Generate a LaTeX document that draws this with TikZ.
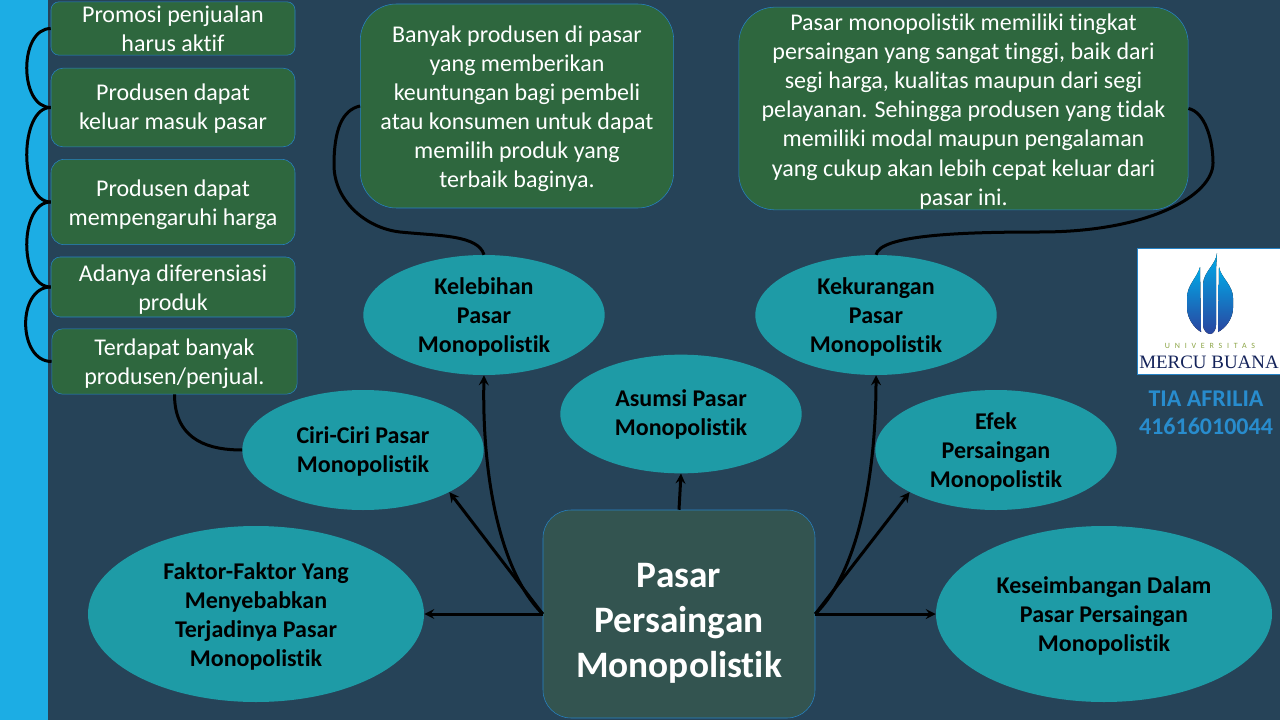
\documentclass[tikz,border=0pt]{standalone}
\usepackage{fontspec}
\setmainfont[Ligatures=NoCommon]{Carlito}
\newfontfamily\logofont{Liberation Serif}
\newfontfamily\spasifont[LetterSpace=60]{Carlito}
\usetikzlibrary{shapes.geometric}
\definecolor{latar}{RGB}{38,67,88}
\definecolor{strip}{RGB}{28,173,228}
\definecolor{hijau}{RGB}{46,103,62}
\definecolor{tosca}{RGB}{30,155,166}
\definecolor{pusat}{RGB}{51,84,80}
\definecolor{garis}{RGB}{38,131,198}
\definecolor{nama}{RGB}{40,140,205}
\definecolor{apiatas}{RGB}{0,170,232}
\definecolor{apitengah}{RGB}{20,112,190}
\definecolor{apibawah}{RGB}{42,70,160}
\definecolor{zaitun}{RGB}{140,165,70}
\definecolor{mercu}{RGB}{20,35,90}
\newcommand{\turun}[1]{\rule{0pt}{#1pt}}
\tikzset{
	kotak/.style={draw=garis, fill=hijau, text=white, align=center, inner sep=0pt, font=\fontsize{18}{21.8}\selectfont},
	elips/.style={ellipse, fill=tosca, text=black, align=center, inner sep=0pt, font=\fontsize{18}{21.8}\selectfont\bfseries},
	api/.style={top color=apiatas, middle color=apitengah, bottom color=apibawah},
	kurva/.style={line width=2.25pt, black},
	panah/.style={line width=2.25pt, black, ->, >=stealth},
}
\begin{document}
\begin{tikzpicture}[x=0.75pt, y=-0.75pt]
	\useasboundingbox (0,0) rectangle (1280,720);
	\fill[latar] (0,0) rectangle (1280,720);
	\fill[strip] (0,0) rectangle (48,720);

	\node[kotak, rounded corners=6pt, minimum width=183pt, minimum height=40pt] (promosi) at (173,28.5) {Promosi penjualan\\harus aktif};
	\node[kotak, rounded corners=9pt, minimum width=183pt, minimum height=59pt] (keluar) at (173,107.5) {\turun{14}Produsen dapat\\keluar masuk pasar};
	\node[kotak, rounded corners=10pt, minimum width=183pt, minimum height=64pt] (harga) at (173,202) {\turun{17}Produsen dapat\\mempengaruhi harga};
	\node[kotak, rounded corners=7pt, minimum width=183pt, minimum height=45pt] (diferensiasi) at (173,287) {\turun{16}Adanya diferensiasi\\produk};
	\node[kotak, rounded corners=8pt, minimum width=184pt, minimum height=49pt] (penjual) at (174.5,361.5) {\turun{16}Terdapat banyak\\produsen/penjual.};

	\node[kotak, rounded corners=27pt, minimum width=235pt, minimum height=153pt] (banyak) at (517,106) {\turun{17}Banyak produsen di pasar\\yang memberikan\\keuntungan bagi pembeli\\atau konsumen untuk dapat\\memilih produk yang\\terbaik baginya.};
	\node[kotak, rounded corners=27pt, minimum width=337pt, minimum height=152pt] (modal) at (963.5,108.5) {\turun{17}Pasar monopolistik memiliki tingkat\\persaingan yang sangat tinggi, baik dari\\segi harga, kualitas maupun dari segi\\pelayanan. Sehingga produsen yang tidak\\memiliki modal maupun pengalaman\\yang cukup akan lebih cepat keluar dari\\pasar ini.};

	\node[elips, minimum width=181pt, minimum height=90pt] (kelebihan) at (484,315) {\turun{16}Kelebihan\\Pasar\\Monopolistik};
	\node[elips, minimum width=181pt, minimum height=90pt] (kekurangan) at (876,315) {\turun{16}Kekurangan\\Pasar\\Monopolistik};
	\node[elips, minimum width=181pt, minimum height=89pt] (asumsi) at (681,414) {Asumsi Pasar\\Monopolistik};
	\node[elips, minimum width=181pt, minimum height=90pt] (ciri) at (363,450) {\turun{14.5}Ciri-Ciri Pasar\\Monopolistik};
	\node[elips, minimum width=181pt, minimum height=90pt] (efek) at (996,450) {\turun{16}Efek\\Persaingan\\Monopolistik};
	\node[elips, minimum width=252pt, minimum height=132pt] (faktor) at (256,614) {\turun{16}Faktor-Faktor Yang\\Menyebabkan\\Terjadinya Pasar\\Monopolistik};
	\node[elips, minimum width=252pt, minimum height=132pt] (seimbang) at (1104,614) {\turun{16}Keseimbangan Dalam\\Pasar Persaingan\\Monopolistik};

	\node[kotak, fill=pusat, rounded corners=21pt, minimum width=204pt, minimum height=156pt, font=\fontsize{28}{33.8}\selectfont\bfseries] (pasar) at (679,614) {\turun{31.5}Pasar\\Persaingan\\Monopolistik};

	% kurung kiri
	\draw[kurva] (promosi.west) .. controls +(-32,0) and +(-32,0) .. (keluar.west);
	\draw[kurva] (keluar.west) .. controls +(-32,0) and +(-32,0) .. (harga.west);
	\draw[kurva] (harga.west) .. controls +(-32,0) and +(-32,0) .. (diferensiasi.west);
	\draw[kurva] (diferensiasi.west) .. controls +(-34,0) and +(-34,0) .. (penjual.west);
	\draw[kurva] (penjual.south) .. controls +(0,48) and +(-30,0) .. (ciri.west);
	\draw[kurva] (banyak.west) .. controls (342,110) and (334,130) .. (334,165) .. controls (334,200) and (365,228) .. (400,232) .. controls (440,236) and (478,235) .. (kelebihan.north);
	\draw[kurva] (modal.east) .. controls (1205,112) and (1213,140) .. (1213,163) .. controls (1213,195) and (1150,232) .. (1040,232) .. controls (960,232) and (880,235) .. (kekurangan.north);

	% panah dari pusat
	\draw[panah] (pasar.west) -- (faktor.east);
	\draw[panah] (pasar.west) -- (ciri.-26.6);
	\draw[panah] (pasar.west) .. controls (498,570) and (482,470) .. (kelebihan.south);
	\draw[panah] (pasar.north) -- (asumsi.south);
	\draw[panah] (pasar.east) -- (seimbang.west);
	\draw[panah] (pasar.east) -- (efek.206);
	\draw[panah] (pasar.east) .. controls (860,570) and (876,470) .. (kekurangan.south);

	% logo
	\fill[white] (1137,248) rectangle (1280,374);
	\draw[garis, line width=0.75pt] (1280,248) -- (1137,248) -- (1137,374) -- (1280,374);
	\fill[api] (1200,267) .. controls (1197,278) and (1187,285) .. (1187,298) -- (1187,308) .. controls (1187,318) and (1194,328) .. (1201,332) -- cycle;
	\fill[api] (1217,253) .. controls (1216,265) and (1203,272) .. (1203,285) -- (1203,325) .. controls (1203,330) and (1207,334) .. (1210,334) .. controls (1213,334) and (1216,330) .. (1216,325) -- (1216,270) -- cycle;
	\fill[api] (1219,267) .. controls (1221,278) and (1233,285) .. (1233,298) -- (1233,308) .. controls (1233,318) and (1226,328) .. (1218,332) -- cycle;
	\node[text=zaitun, font=\spasifont\fontsize{6}{7}\selectfont, inner sep=0pt] (universitas) at (1210,346) {UNIVERSITAS};
	\node[text=mercu, font=\logofont\fontsize{14.2}{17}\selectfont, inner sep=0pt] (namamercu) at (1209,362) {MERCU BUANA};

	\node[text=nama, align=center, font=\fontsize{18}{21}\selectfont\bfseries, inner sep=0pt] (tia) at (1206,413) {TIA AFRILIA\\41616010044};
\end{tikzpicture}
\end{document}
